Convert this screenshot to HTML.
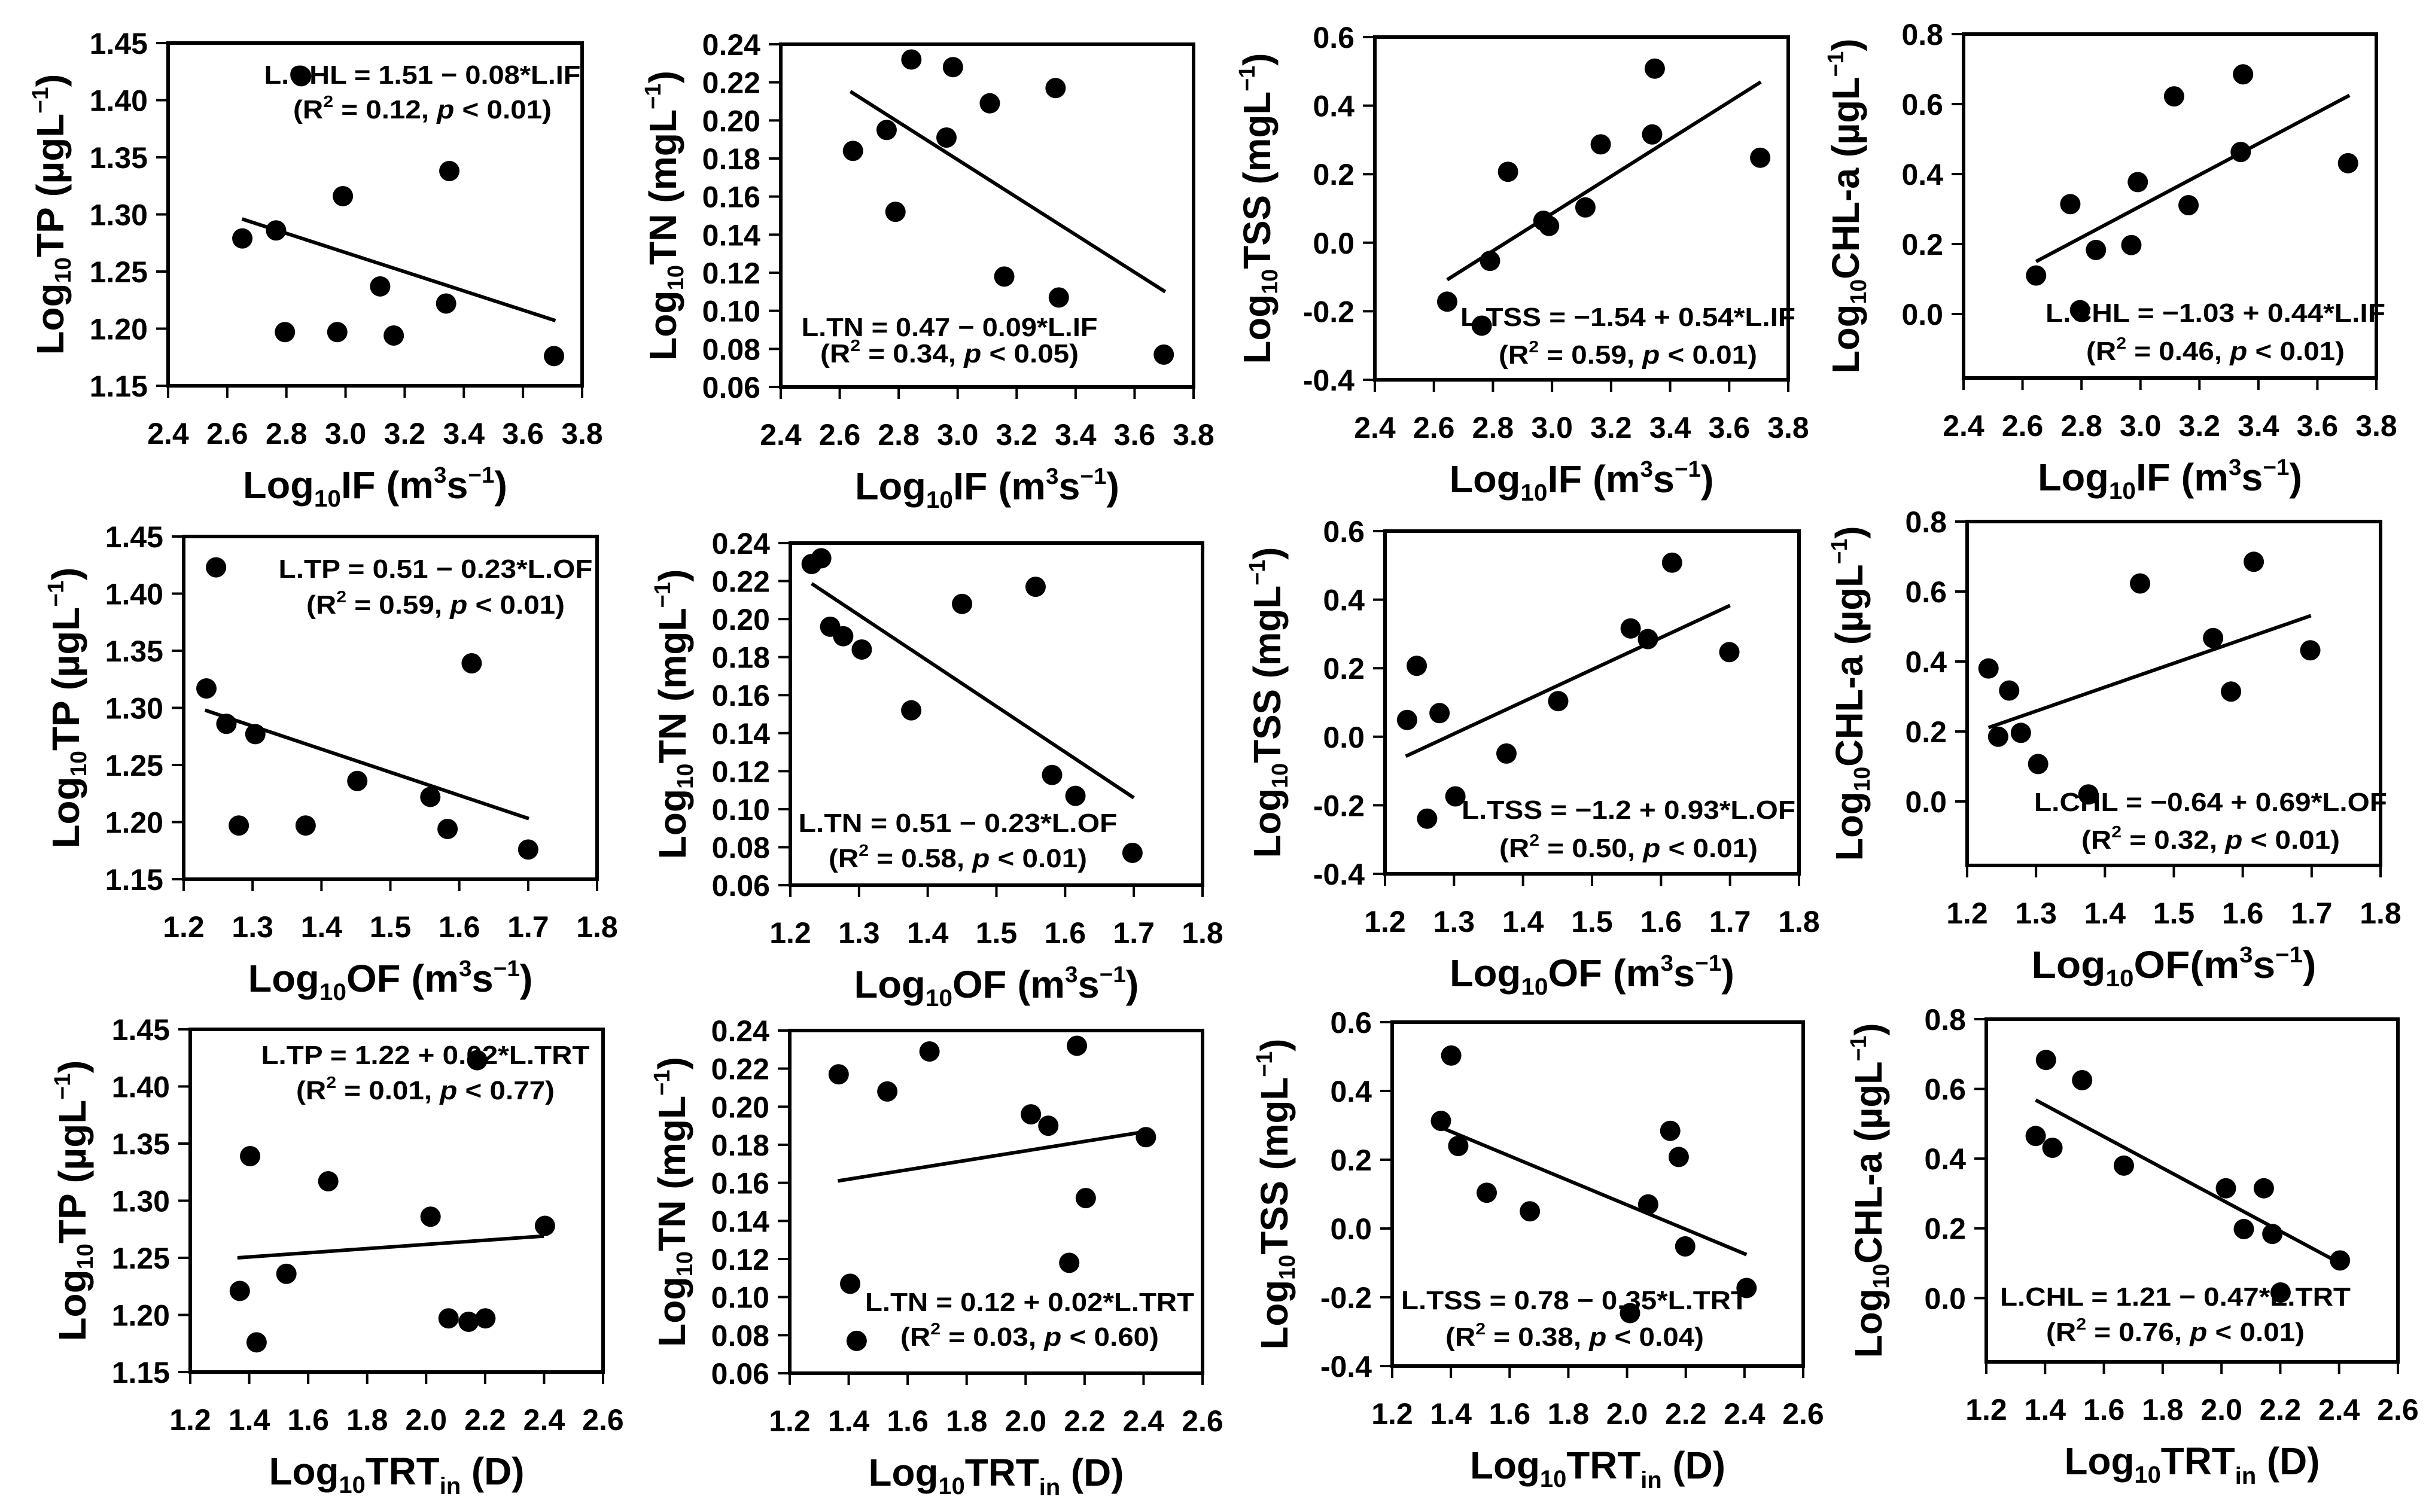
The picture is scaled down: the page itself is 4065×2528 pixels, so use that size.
<!DOCTYPE html>
<html><head><meta charset="utf-8"><style>
html,body{margin:0;padding:0;background:#fff;}
svg{display:block;font-family:"Liberation Sans",Arial,sans-serif;font-weight:bold;}
</style></head><body>
<svg id="fig" width="4065" height="2528" viewBox="0 0 4065 2528" xmlns="http://www.w3.org/2000/svg"></svg>
<script>
// ---- data ----
const xIF_TP = [2.651,2.765,2.850,2.795,2.991,2.972,3.117,3.163,3.351,3.340,3.705];
const yTP_IF = [1.279,1.286,1.421,1.197,1.316,1.197,1.237,1.194,1.338,1.222,1.176];
const fitX_TP_IF = [2.65,3.71]; const fitY_TP_IF = [1.296,1.207];

const xIF_TN = [2.645,2.759,2.843,2.789,2.984,2.962,3.109,3.332,3.158,3.343,3.699];
const yTN_IF = [0.184,0.195,0.232,0.152,0.228,0.191,0.209,0.217,0.118,0.107,0.077];
const fitX_TN_IF = [2.636,3.704]; const fitY_TN_IF = [0.2152,0.110];

const xIF_TSS = [2.645,2.762,2.790,2.851,2.971,2.990,3.113,3.165,3.339,3.348,3.705];
const yTSS_IF = [-0.172,-0.242,-0.053,0.207,0.064,0.049,0.103,0.287,0.316,0.508,0.248];
const fitX_TSS_IF = [2.645,3.707]; const fitY_TSS_IF = [-0.108,0.469];

const xIF_CHL = [2.646,2.762,2.795,2.849,2.969,2.991,3.114,3.163,3.340,3.348,3.704];
const yCHL_IF = [0.110,0.314,0.011,0.183,0.197,0.377,0.622,0.311,0.463,0.685,0.431];
const fitX_CHL_IF = [2.646,3.709]; const fitY_CHL_IF = [0.150,0.625];

const xOF_TP = [1.233,1.247,1.262,1.304,1.280,1.377,1.452,1.558,1.583,1.618,1.700];
const yTP_OF = [1.317,1.423,1.286,1.277,1.197,1.197,1.236,1.222,1.194,1.339,1.176];
const fitX_TP_OF = [1.231,1.701]; const fitY_TP_OF = [1.298,1.203];

const xOF_TN = [1.231,1.245,1.258,1.277,1.304,1.376,1.450,1.557,1.581,1.615,1.698];
const yTN_OF = [0.229,0.232,0.196,0.191,0.184,0.152,0.208,0.217,0.118,0.107,0.077];
const fitX_TN_OF = [1.231,1.700]; const fitY_TN_OF = [0.2187,0.106];

const xOF_TSS = [1.232,1.246,1.279,1.261,1.302,1.376,1.451,1.556,1.581,1.616,1.699];
const yTSS_OF = [0.049,0.207,0.069,-0.239,-0.174,-0.049,0.104,0.316,0.285,0.508,0.247];
const fitX_TSS_OF = [1.230,1.700]; const fitY_TSS_OF = [-0.057,0.383];

const xOF_CHL = [1.231,1.261,1.245,1.278,1.303,1.376,1.451,1.557,1.583,1.616,1.698];
const yCHL_OF = [0.380,0.317,0.185,0.196,0.107,0.020,0.623,0.467,0.314,0.685,0.432];
const fitX_CHL_OF = [1.231,1.699]; const fitY_CHL_OF = [0.211,0.531];

const xTRT_TP = [1.368,1.403,1.425,1.526,1.668,2.015,2.076,2.144,2.201,2.173,2.403];
const yTP_TRT = [1.221,1.339,1.176,1.236,1.317,1.286,1.197,1.194,1.197,1.423,1.278];
const fitX_TP_TRT = [1.360,2.399]; const fitY_TP_TRT = [1.250,1.269];

const xTRT_TN = [1.366,1.405,1.427,1.531,1.674,2.018,2.077,2.148,2.174,2.204,2.408];
const yTN_TRT = [0.217,0.107,0.077,0.208,0.229,0.196,0.190,0.118,0.232,0.152,0.184];
const fitX_TN_TRT = [1.363,2.411]; const fitY_TN_TRT = [0.161,0.187];

const xTRT_TSS = [1.366,1.401,1.425,1.522,1.669,2.072,2.147,2.176,2.198,2.010,2.407];
const yTSS_TRT = [0.313,0.503,0.240,0.104,0.050,0.070,0.284,0.208,-0.052,-0.246,-0.173];
const fitX_TSS_TRT = [1.366,2.407]; const fitY_TSS_TRT = [0.294,-0.076];

const xTRT_CHL = [1.368,1.403,1.425,1.526,1.668,2.015,2.076,2.144,2.173,2.201,2.403];
const yCHL_TRT = [0.465,0.683,0.431,0.625,0.380,0.315,0.198,0.315,0.184,0.016,0.108];
const fitX_CHL_TRT = [1.368,2.403]; const fitY_CHL_TRT = [0.568,0.100];

const ticksIF = [2.4,2.6,2.8,3.0,3.2,3.4,3.6,3.8];
const ticksOF = [1.2,1.3,1.4,1.5,1.6,1.7,1.8];
const ticksTRT = [1.2,1.4,1.6,1.8,2.0,2.2,2.4,2.6];
const ticksTP = [1.15,1.20,1.25,1.30,1.35,1.40,1.45];
const ticksTN = [0.06,0.08,0.10,0.12,0.14,0.16,0.18,0.20,0.22,0.24];
const ticksTSS = [-0.4,-0.2,0.0,0.2,0.4,0.6];
const ticksCHL = [0.0,0.2,0.4,0.6,0.8];

const eqTexts = [
 ["L.CHL = 1.51 − 0.08*L.IF","0.12","0.01"],
 ["L.TN = 0.47 − 0.09*L.IF","0.34","0.05"],
 ["L.TSS = −1.54 + 0.54*L.IF","0.59","0.01"],
 ["L.CHL = −1.03 + 0.44*L.IF","0.46","0.01"],
 ["L.TP = 0.51 − 0.23*L.OF","0.59","0.01"],
 ["L.TN = 0.51 − 0.23*L.OF","0.58","0.01"],
 ["L.TSS = −1.2 + 0.93*L.OF","0.50","0.01"],
 ["L.CHL = −0.64 + 0.69*L.OF","0.32","0.01"],
 ["L.TP = 1.22 + 0.02*L.TRT","0.01","0.77"],
 ["L.TN = 0.12 + 0.02*L.TRT","0.03","0.60"],
 ["L.TSS = 0.78 − 0.35*L.TRT","0.38","0.04"],
 ["L.CHL = 1.21 − 0.47*L.TRT","0.76","0.01"]
];

// ---- layout ----
const Y = {
 TP:{ticks:ticksTP,min:1.15,max:1.45,dec:2,name:"TP",unit:"\u00b5gL",len:470},
 TN:{ticks:ticksTN,min:0.06,max:0.24,dec:2,name:"TN",unit:"mgL",len:485},
 TSS:{ticks:ticksTSS,min:-0.4,max:0.6,dec:1,name:"TSS",unit:"mgL",len:520},
 CHL:{ticks:ticksCHL,min:-0.183,max:0.8,dec:1,name:"CHL-a",unit:"\u00b5gL",len:560}
};
const X = {
 IF:{ticks:ticksIF,min:2.4,max:3.8,kind:"IF",len:442},
 OF:{ticks:ticksOF,min:1.2,max:1.8,kind:"OF",len:476},
 TRT:{ticks:ticksTRT,min:1.2,max:2.6,kind:"TRT",len:427}
};
const panels = [
 {f:[281,973,72,645],xa:"IF",ya:"TP",xs:xIF_TP,ys:yTP_IF,fx:fitX_TP_IF,fy:fitY_TP_IF,eq:[425,53,111,529]},
 {f:[1305,1995,74,647],xa:"IF",ya:"TN",xs:xIF_TN,ys:yTN_IF,fx:fitX_TN_IF,fy:fitY_TN_IF,eq:[282,473,517,495]},
 {f:[2298,2989,62,635],xa:"IF",ya:"TSS",xs:xIF_TSS,ys:yTSS_IF,fx:fitX_TSS_IF,fy:fitY_TSS_IF,eq:[423,468,531,560]},
 {f:[3282,3972,57,632],xa:"IF",ya:"CHL",xs:xIF_CHL,ys:yCHL_IF,fx:fitX_CHL_IF,fy:fitY_CHL_IF,eq:[421,466,530,568]},
 {f:[307,998,897,1470],xa:"OF",ya:"TP",xs:xOF_TP,ys:yTP_OF,fx:fitX_TP_OF,fy:fitY_TP_OF,eq:[421,54,114,525]},
 {f:[1321,2010,908,1480],xa:"OF",ya:"TN",xs:xOF_TN,ys:yTN_OF,fx:fitX_TN_OF,fy:fitY_TN_OF,eq:[280,468,527,533]},
 {f:[2315,3007,888,1461],xa:"OF",ya:"TSS",xs:xOF_TSS,ys:yTSS_OF,fx:fitX_TSS_OF,fy:fitY_TSS_OF,eq:[407,466,530,558]},
 {f:[3288,3979,872,1447],xa:"OF",ya:"CHL",xs:xOF_CHL,ys:yCHL_OF,fx:fitX_CHL_OF,fy:fitY_CHL_OF,eq:[407,469,532,590],nospace:true},
 {f:[318,1008,1721,2294],xa:"TRT",ya:"TP",xs:xTRT_TP,ys:yTP_TRT,fx:fitX_TP_TRT,fy:fitY_TP_TRT,eq:[393,43,102,549]},
 {f:[1320,2010,1723,2296],xa:"TRT",ya:"TN",xs:xTRT_TN,ys:yTN_TRT,fx:fitX_TN_TRT,fy:fitY_TN_TRT,eq:[401,454,512,550]},
 {f:[2327,3014,1709,2284],xa:"TRT",ya:"TSS",xs:xTRT_TSS,ys:yTSS_TRT,fx:fitX_TSS_TRT,fy:fitY_TSS_TRT,eq:[305,465,526,580]},
 {f:[3320,4008,1704,2277],xa:"TRT",ya:"CHL",xs:xTRT_CHL,ys:yCHL_TRT,fx:fitX_CHL_TRT,fy:fitY_CHL_TRT,eq:[316,464,523,586]}
];
const NS="http://www.w3.org/2000/svg";
const svg=document.getElementById('fig');
function mk(tag,attrs,parent){const e=document.createElementNS(NS,tag);for(const k in attrs)e.setAttribute(k,attrs[k]);(parent||svg).appendChild(e);return e;}

panels.forEach((p,i)=>{
 const [L,R,T,B]=p.f; const xa=X[p.xa], ya=Y[p.ya];
 const sx=v=>L+(v-xa.min)/(xa.max-xa.min)*(R-L);
 const sy=v=>B-(v-ya.min)/(ya.max-ya.min)*(B-T);
 const g=mk('g',{});
 
 
 const fr=mk('rect',{x:L,y:T,width:R-L,height:B-T,fill:'none',stroke:'#000','stroke-width':6},g);
 
 
 xa.ticks.forEach(t=>{
  const x=sx(t);
  const tk=mk('line',{x1:x,x2:x,y1:B,y2:B+20,stroke:'#000','stroke-width':4},g);
  
  
  const tl=mk('text',{x:x,y:B+97,'text-anchor':'middle','font-size':50},g);
  tl.textContent=t.toFixed(1);
  
  
 });
 ya.ticks.forEach(t=>{
  const y=sy(t);
  const tk=mk('line',{x1:L-20,x2:L,y1:y,y2:y,stroke:'#000','stroke-width':4},g);
  
  
  const tl=mk('text',{x:L-34,y:y+18,'text-anchor':'end','font-size':50},g);
  tl.textContent=t.toFixed(ya.dec);
  
  
 });
 const fl=mk('line',{x1:sx(p.fx[0]),y1:sy(p.fy[0]),x2:sx(p.fx[1]),y2:sy(p.fy[1]),stroke:'#000','stroke-width':6},g);
 
 
 p.xs.forEach((xv,j)=>{
  const c=mk('circle',{cx:sx(xv),cy:sy(p.ys[j]),r:17,fill:'#000'},g);
  
  
 });
 const e=eqTexts[i];
 const t1=mk('text',{x:L+p.eq[0],y:T+p.eq[1]+15,'text-anchor':'middle','font-size':44,textLength:p.eq[3],lengthAdjust:'spacingAndGlyphs'},g);
 t1.textContent=e[0];
 
 
 const t2=mk('text',{x:L+p.eq[0],y:T+p.eq[2]+15,'text-anchor':'middle','font-size':44,textLength:432,lengthAdjust:'spacingAndGlyphs'},g);
 t2.innerHTML='(R<tspan font-size="28" dy="-19">2</tspan><tspan dy="19"> = '+e[1]+', </tspan><tspan font-style="italic">p</tspan> &lt; '+e[2]+')';
 
 
 const cx=L-197, cy=(T+B)/2;
 const yt=mk('text',{transform:'translate('+cx+','+cy+') rotate(-90)','text-anchor':'middle','font-size':64,textLength:ya.len,lengthAdjust:'spacingAndGlyphs',y:22},g);
 yt.innerHTML='Log<tspan font-size="38" dy="12">10</tspan><tspan dy="-12">'+ya.name+' ('+ya.unit+'</tspan><tspan font-size="38" dy="-26">\u22121</tspan><tspan dy="26">)</tspan>';
 
 
 const xt=mk('text',{x:(L+R)/2,y:B+188,'text-anchor':'middle','font-size':64,textLength:xa.len,lengthAdjust:'spacingAndGlyphs'},g);
 const sp = p.nospace ? '' : ' ';
 if(xa.kind==='TRT'){
  xt.innerHTML='Log<tspan font-size="40" dy="14">10</tspan><tspan dy="-14">TRT</tspan><tspan font-size="40" dy="16">in</tspan><tspan dy="-16"> (D)</tspan>';
 } else {
  xt.innerHTML='Log<tspan font-size="40" dy="14">10</tspan><tspan dy="-14">'+xa.kind+sp+'(m</tspan><tspan font-size="38" dy="-26">3</tspan><tspan dy="26">s</tspan><tspan font-size="38" dy="-26">\u22121</tspan><tspan dy="26">)</tspan>';
 }
 
 
});
</script>
</body></html>
